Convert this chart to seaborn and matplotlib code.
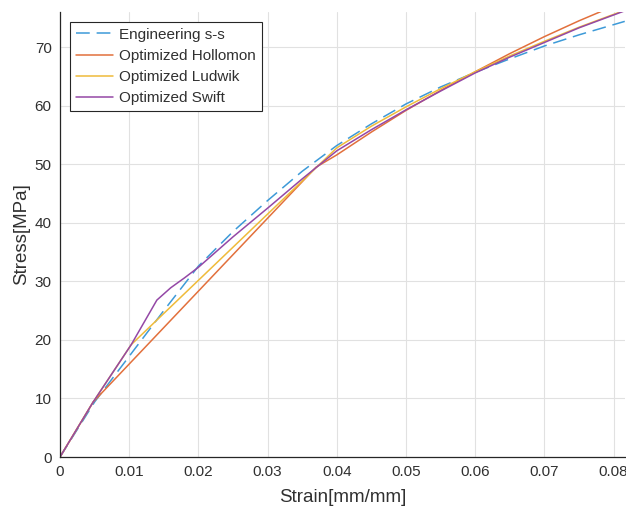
import numpy as np
import pandas as pd
import seaborn as sns
import matplotlib.pyplot as plt

# values (strain in mm/mm, stress in MPa)
eng_strain = [0, 0.005, 0.01, 0.015, 0.02, 0.025, 0.03, 0.035, 0.04, 0.045, 0.05,
              0.055, 0.06, 0.065, 0.07, 0.075, 0.0816]
eng_stress = [0, 9.4, 17.2, 25.0, 32.6, 38.5, 43.8, 48.8, 53.2, 56.9, 60.3,
              63.2, 65.7, 68.0, 70.2, 72.1, 74.4]

hol_strain = [0, 0.0048, 0.037, 0.04, 0.045, 0.05, 0.055, 0.06, 0.065, 0.07, 0.075, 0.0816]
hol_stress = [0, 9.4, 49.5, 51.6, 55.5, 59.2, 62.6, 65.8, 68.9, 71.8, 74.5, 77.8]

lud_strain = [0, 0.0048, 0.0103, 0.04, 0.045, 0.05, 0.055, 0.06, 0.065, 0.07, 0.075, 0.0816]
lud_stress = [0, 9.4, 19.2, 52.8, 56.5, 59.8, 62.9, 65.8, 68.5, 71.0, 73.4, 76.3]

swi_strain = [0, 0.0048, 0.0103, 0.014, 0.016, 0.018, 0.02, 0.025, 0.03, 0.035, 0.04,
              0.045, 0.05, 0.055, 0.06, 0.065, 0.07, 0.075, 0.0816]
swi_stress = [0, 9.4, 19.2, 26.8, 28.9, 30.6, 32.4, 37.6, 42.5, 47.5, 52.3,
              55.9, 59.3, 62.5, 65.6, 68.3, 70.8, 73.3, 76.2]

series = [
    ("Engineering s-s", eng_strain, eng_stress, "#3d9ad8", (0, (9, 4.5))),
    ("Optimized Hollomon", hol_strain, hol_stress, "#e2703c", "-"),
    ("Optimized Ludwik", lud_strain, lud_stress, "#efbb3a", "-"),
    ("Optimized Swift", swi_strain, swi_stress, "#9448a6", "-"),
]

sns.set_style("whitegrid")
plt.rcParams['font.family'] = ['Liberation Sans', 'DejaVu Sans']

fig = plt.figure(figsize=(6.26, 5.15), dpi=100)
ax = fig.add_axes([0.0958, 0.1126, 0.9022, 0.8641])

for name, xs, ys, color, ls in series:
    sns.lineplot(x=xs, y=ys, ax=ax, sort=False, color=color, linewidth=1.1,
                 linestyle=ls, label=name, estimator=None)

ax.set_xlim(0, 0.0816)
ax.set_ylim(0, 76)
ax.set_xticks(np.arange(0, 0.081, 0.01))
ax.set_xticklabels(["0", "0.01", "0.02", "0.03", "0.04", "0.05", "0.06", "0.07", "0.08"])
ax.set_yticks(np.arange(0, 71, 10))

ax.grid(True, color="#e1e1e1", linewidth=0.8)
for side in ["top", "right"]:
    ax.spines[side].set_visible(False)
for side in ["left", "bottom"]:
    ax.spines[side].set_color("#262626")
    ax.spines[side].set_linewidth(0.9)

ax.tick_params(axis="both", direction="in", length=4, width=0.8, colors="#303030",
               labelsize=11, pad=6)
ax.set_xlabel("Strain[mm/mm]", fontsize=13.5, color="#303030", labelpad=7)
ax.set_ylabel("Stress[MPa]", fontsize=13.5, color="#303030", labelpad=3)

leg = ax.legend(loc="upper left", bbox_to_anchor=(0.012, 0.985), fontsize=11,
                frameon=True, fancybox=False, edgecolor="#262626", framealpha=1,
                handlelength=2.4, handletextpad=0.45, borderpad=0.4, labelspacing=0.47,
                borderaxespad=0.2)
leg.get_frame().set_linewidth(0.8)
for t in leg.get_texts():
    t.set_color("#303030")

fig.savefig("out.png", dpi=100)
